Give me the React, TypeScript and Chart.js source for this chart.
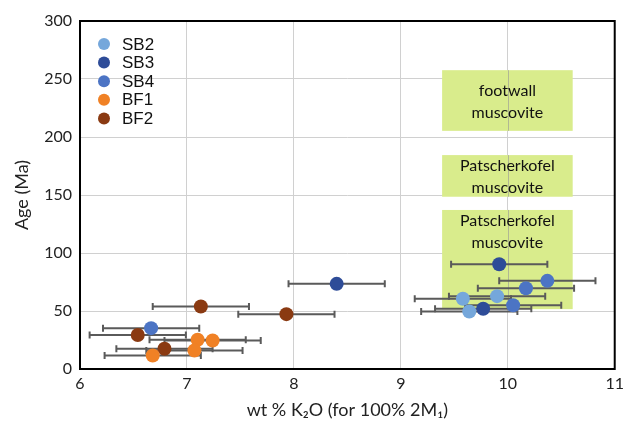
import React, { useEffect, useRef } from "react";
import { Chart, registerables } from "chart.js";

Chart.register(...registerables);

// ---- Data ----
const seriesNames = ["SB2", "SB3", "SB4", "BF1", "BF2"];
const seriesColors = ["#75A7DB", "#2E4C98", "#4C74C4", "#F08125", "#8A3A12"];

const sb2X = [9.58, 9.9, 9.64];
const sb2Y = [60.5, 62.8, 49.6];
const sb2Err = [0.45, 0.45, 0.45];

const sb3X = [8.4, 9.92, 9.77];
const sb3Y = [73.4, 90.3, 51.9];
const sb3Err = [0.45, 0.45, 0.45];

const sb4X = [6.665, 10.37, 10.17, 10.05];
const sb4Y = [35.2, 76, 69.6, 55];
const sb4Err = [0.45, 0.45, 0.45, 0.45];

const bf1X = [7.1, 7.24, 7.07, 6.68];
const bf1Y = [25.2, 24.6, 16, 11.7];
const bf1Err = [0.45, 0.45, 0.45, 0.45];

const bf2X = [7.13, 7.93, 6.54, 6.79];
const bf2Y = [53.9, 47.3, 29.3, 17.5];
const bf2Err = [0.45, 0.45, 0.45, 0.45];

const allX = [sb2X, sb3X, sb4X, bf1X, bf2X];
const allY = [sb2Y, sb3Y, sb4Y, bf1Y, bf2Y];
const allErr = [sb2Err, sb3Err, sb4Err, bf1Err, bf2Err];

// Annotation boxes
const boxXMin = [9.386, 9.386, 9.386];
const boxXMax = [10.607, 10.607, 10.607];
const boxYMin = [205.3, 148.5, 51.6];
const boxYMax = [257.6, 184.4, 137.1];
const boxLine1 = ["footwall", "Patscherkofel", "Patscherkofel"];
const boxLine2 = ["muscovite", "muscovite", "muscovite"];
const boxTextTopOffset = [20.7, 11, 11];

const xMin = 6, xMax = 11, xStep = 1;
const yMin = 0, yMax = 300, yStep = 50;

const FONT = "Lato, 'Open Sans', sans-serif";

const boxesAndErrors = {
  id: "boxesAndErrors",
  beforeDatasetsDraw(chart: any) {
    const { ctx, scales } = chart;
    const xs = scales.x, ys = scales.y;
    ctx.save();
    for (let i = 0; i < boxXMin.length; i++) {
      const l = xs.getPixelForValue(boxXMin[i]);
      const r = xs.getPixelForValue(boxXMax[i]);
      const t = ys.getPixelForValue(boxYMax[i]);
      const b = ys.getPixelForValue(boxYMin[i]);
      ctx.fillStyle = "#D9EC8C";
      ctx.fillRect(l, t, r - l, b - t);
      const gx = Math.round(xs.getPixelForValue(10)) + 0.5;
      ctx.strokeStyle = "rgba(150,150,150,0.6)";
      ctx.lineWidth = 1;
      ctx.beginPath();
      ctx.moveTo(gx, t);
      ctx.lineTo(gx, b);
      ctx.stroke();
      ctx.fillStyle = "#111";
      ctx.font = "16px " + FONT;
      ctx.textAlign = "center";
      ctx.textBaseline = "middle";
      const cx = (l + r) / 2;
      ctx.fillText(boxLine1[i], cx, t + boxTextTopOffset[i]);
      ctx.fillText(boxLine2[i], cx, t + boxTextTopOffset[i] + 21.5);
    }
    ctx.strokeStyle = "#5A5A5A";
    ctx.lineWidth = 2;
    for (let s = 0; s < allX.length; s++) {
      for (let k = 0; k < allX[s].length; k++) {
        const y = ys.getPixelForValue(allY[s][k]);
        const x1 = xs.getPixelForValue(allX[s][k] - allErr[s][k]);
        const x2 = xs.getPixelForValue(allX[s][k] + allErr[s][k]);
        ctx.beginPath();
        ctx.moveTo(x1, y);
        ctx.lineTo(x2, y);
        ctx.moveTo(x1, y - 3.5);
        ctx.lineTo(x1, y + 3.5);
        ctx.moveTo(x2, y - 3.5);
        ctx.lineTo(x2, y + 3.5);
        ctx.stroke();
      }
    }
    ctx.restore();
  },
  afterDraw(chart: any) {
    const { ctx, chartArea } = chart;
    ctx.save();
    ctx.strokeStyle = "#000";
    ctx.lineWidth = 2;
    ctx.strokeRect(chartArea.left, chartArea.top, chartArea.right - chartArea.left, chartArea.bottom - chartArea.top);
    ctx.font = "17px 'Liberation Sans', Arial, sans-serif";
    ctx.textBaseline = "middle";
    ctx.textAlign = "left";
    for (let i = 0; i < seriesNames.length; i++) {
      const y = chartArea.top + 23 + i * 18.6;
      const x = chartArea.left + 24;
      ctx.fillStyle = seriesColors[i];
      ctx.beginPath();
      ctx.arc(x, y, 6, 0, Math.PI * 2);
      ctx.fill();
      ctx.fillStyle = "#111";
      ctx.fillText(seriesNames[i], x + 18, y + 1);
    }
    ctx.restore();
  },
};

export default function App() {
  const ref = useRef<HTMLCanvasElement>(null);
  useEffect(() => {
    if (!ref.current) return;
    const chart = new Chart(ref.current, {
      type: "scatter",
      data: {
        datasets: seriesNames.map((name, i) => ({
          label: name,
          data: allX[i].map((x, k) => ({ x, y: allY[i][k] })),
          backgroundColor: seriesColors[i],
          borderColor: seriesColors[i],
          pointRadius: 7,
          pointHoverRadius: 7,
          borderWidth: 0,
        })),
      },
      options: {
        responsive: false,
        animation: false,
        layout: { padding: { left: 0, right: 9, top: 21, bottom: 0 } },
        plugins: { legend: { display: false }, tooltip: { enabled: false } },
        scales: {
          x: {
            type: "linear",
            min: xMin,
            max: xMax,
            ticks: { stepSize: xStep, color: "#222", font: { family: FONT, size: 16 }, padding: 5 },
            grid: { color: "#D0D0D0", lineWidth: 1, drawTicks: false },
            border: { display: false },
            title: {
              display: true,
              text: "wt % K₂O (for 100% 2M₁)",
              color: "#222",
              font: { family: FONT, size: 18 },
              padding: { top: 0, bottom: 4 },
            },
            afterFit(scale: any) { scale.height = 56; },
          },
          y: {
            type: "linear",
            min: yMin,
            max: yMax,
            ticks: { stepSize: yStep, color: "#222", font: { family: FONT, size: 16 }, padding: 8 },
            grid: { color: "#D0D0D0", lineWidth: 1, drawTicks: false },
            border: { display: false },
            title: {
              display: true,
              text: "Age (Ma)",
              color: "#222",
              font: { family: FONT, size: 18 },
              padding: { top: 11, bottom: 0 },
            },
            afterFit(scale: any) { scale.width = 80; },
          },
        },
      },
      plugins: [boxesAndErrors],
    });
    return () => chart.destroy();
  }, []);
  return (
    <div style={{ position: "absolute", left: 0, top: 0, width: 629, height: 425, background: "#fff" }}>
      <canvas ref={ref} width={629} height={425} />
    </div>
  );
}
